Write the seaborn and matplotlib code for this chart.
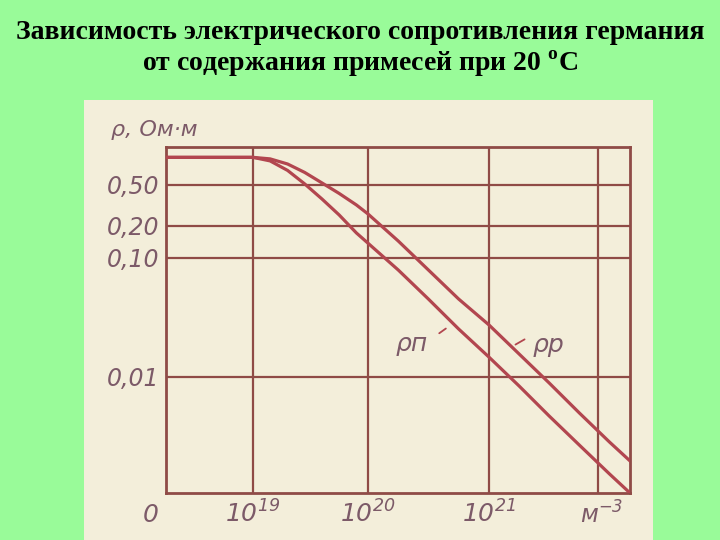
import numpy as np
import pandas as pd
import matplotlib
matplotlib.use("Agg")
import matplotlib.pyplot as plt
from matplotlib.patches import Rectangle
import seaborn as sns

# ---------------- data ----------------
impurity_conc = [1.74e18, 1.0e19, 1.41e19, 2.0e19, 2.82e19, 3.98e19, 5.62e19, 7.94e19,
                 1.0e20, 1.78e20, 3.16e20, 5.62e20, 1.0e21, 1.78e21, 3.16e21, 5.62e21,
                 1.0e22, 1.48e22]
rho_p = [0.928, 0.928, 0.897, 0.80, 0.662, 0.524, 0.414, 0.320, 0.262, 0.1445, 0.0793,
         0.0452, 0.0274, 0.0156, 0.00888, 0.0049, 0.00275, 0.00189]
rho_n = [0.928, 0.928, 0.857, 0.693, 0.512, 0.366, 0.256, 0.172, 0.138, 0.0793, 0.0452,
         0.0253, 0.0147, 0.00836, 0.00461, 0.00259, 0.00146, 0.0010]
series_names = ["ρp", "ρп"]

y_tick_values = [0.5, 0.2, 0.1, 0.01]
y_tick_labels = ["0,50", "0,20", "0,10", "0,01"]
x_tick_values = [1e19, 1e20, 1e21, 8e21]
x_tick_labels = [r"$10^{19}$", r"$10^{20}$", r"$10^{21}$", ""]
x_limits = (1.74e18, 1.48e22)
y_limits = (0.001, 1.17)

title_line1 = "Зависимость электрического сопротивления германия"
title_line2 = r"от содержания примесей при 20 $^{\mathbf{o}}$C"
y_axis_title = "ρ, Ом·м"
x_unit = r"м$^{-3}$"
x_zero = "0"

# ---------------- style ----------------
GREEN = "#99FB99"
PAPER = "#F3EEDA"
GRID = "#8F4B46"
CURVE = "#B2464F"
LABEL = "#7C5A68"

plt.rcParams["font.family"] = ["DejaVu Sans"]
plt.rcParams["mathtext.fontset"] = "custom"
plt.rcParams["mathtext.rm"] = "DejaVu Sans:italic"
plt.rcParams["mathtext.it"] = "DejaVu Sans:italic"
plt.rcParams["mathtext.bf"] = "Liberation Serif:bold"

# hand-drawn (slightly irregular) logarithmic axes of the scanned graph
def piecewise_log(lx, fr):
    lx = np.asarray(lx, float)
    fr = np.asarray(fr, float)
    s0 = (fr[1] - fr[0]) / (lx[1] - lx[0])
    s1 = (fr[-1] - fr[-2]) / (lx[-1] - lx[-2])

    def fwd(v):
        l = np.log10(np.clip(np.asarray(v, float), 1e-300, None))
        out = np.interp(l, lx, fr)
        out = np.where(l < lx[0], fr[0] + (l - lx[0]) * s0, out)
        out = np.where(l > lx[-1], fr[-1] + (l - lx[-1]) * s1, out)
        return out

    def inv(f):
        f = np.asarray(f, float)
        l = np.interp(f, fr, lx)
        l = np.where(f < fr[0], lx[0] + (f - fr[0]) / s0, l)
        l = np.where(f > fr[-1], lx[-1] + (f - fr[-1]) / s1, l)
        return 10.0 ** l

    return fwd, inv

x_fun = piecewise_log([18.24, 19, 20, 21, 22.17], [0, 0.1875, 0.4353, 0.6961, 1.0])
y_fun = piecewise_log([-3, -2, -1, np.log10(0.2), np.log10(0.5), np.log10(1.17)],
                      [0, 0.3353, 0.6792, 0.7717, 0.8902, 1.0])

df = pd.DataFrame({
    "N": impurity_conc * 2,
    "rho": rho_p + rho_n,
    "series": [series_names[0]] * len(rho_p) + [series_names[1]] * len(rho_n),
})

fig = plt.figure(figsize=(7.2, 5.4), dpi=100)
fig.patch.set_facecolor(GREEN)
fig.patches.append(Rectangle((84 / 720, 0), (653 - 84) / 720, (540 - 100) / 540,
                             transform=fig.transFigure, facecolor=PAPER,
                             edgecolor="none", zorder=-10))

ax = fig.add_axes([166 / 720, 47 / 540, 464 / 720, 346 / 540])
ax.set_zorder(1)
ax.set_facecolor("none")
ax.set_xscale("function", functions=x_fun)
ax.set_yscale("function", functions=y_fun)

sns.lineplot(data=df, x="N", y="rho", hue="series",
             palette={series_names[0]: CURVE, series_names[1]: CURVE},
             linewidth=2.3, legend=False, ax=ax, zorder=3)

ax.set_xlim(*x_limits)
ax.set_ylim(*y_limits)
ax.set_xticks(x_tick_values, x_tick_labels)
ax.set_yticks(y_tick_values, y_tick_labels)
ax.minorticks_off()
ax.set_xlabel("")
ax.set_ylabel("")
ax.tick_params(length=0, colors=LABEL, labelsize=17)
ax.tick_params(axis="x", pad=5, labelsize=18)
ax.tick_params(axis="y", pad=5)
for lab in ax.get_yticklabels():
    lab.set_fontstyle("italic")
ax.grid(True, color=GRID, linewidth=1.6)
ax.set_axisbelow(True)
for sp in ax.spines.values():
    sp.set_color(GRID)
    sp.set_linewidth(2.0)

# axis annotations
ax.text(-0.118, 1.05, y_axis_title, transform=ax.transAxes, ha="left", va="center",
        fontsize=16, style="italic", color=LABEL)
ax.text(-0.034, -0.065, x_zero, transform=ax.transAxes, ha="center", va="center",
        fontsize=18, style="italic", color=LABEL)
ax.text(0.94, -0.065, x_unit, transform=ax.transAxes, ha="center", va="center",
        fontsize=17, style="italic", color=LABEL)

# curve labels with leader lines
ax.text(0.530, 0.432, series_names[1], transform=ax.transAxes, ha="center", va="center",
        fontsize=18, style="italic", color=LABEL)
ax.annotate("", xy=(0.608, 0.480), xytext=(0.584, 0.457), xycoords="axes fraction",
            arrowprops=dict(arrowstyle="-", color=CURVE, lw=1.3))
ax.text(0.825, 0.428, series_names[0], transform=ax.transAxes, ha="center", va="center",
        fontsize=18, style="italic", color=LABEL)
ax.annotate("", xy=(0.778, 0.448), xytext=(0.748, 0.425), xycoords="axes fraction",
            arrowprops=dict(arrowstyle="-", color=CURVE, lw=1.3))

# slide title
fig.text(0.5, 1 - 39 / 540, title_line1, ha="center", va="baseline",
         fontsize=20, fontweight="bold", family=["Liberation Serif", "DejaVu Serif"],
         color="black")
fig.text(0.5, 1 - 71 / 540, title_line2, ha="center", va="baseline",
         fontsize=20, fontweight="bold", family=["Liberation Serif", "DejaVu Serif"],
         color="black")

fig.savefig("out.png", dpi=100, facecolor=GREEN)
